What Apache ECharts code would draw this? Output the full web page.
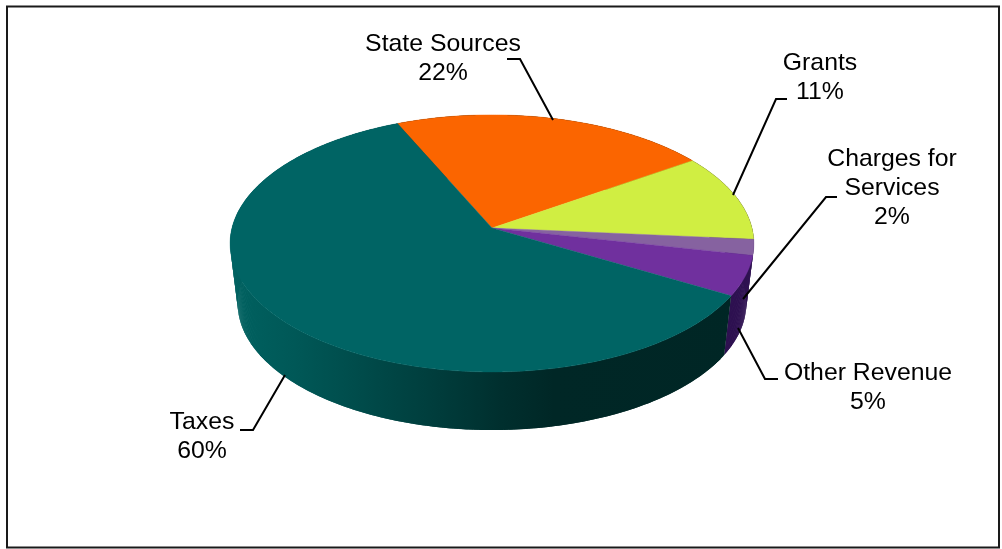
<!DOCTYPE html>
<html>
<head>
<meta charset="utf-8">
<style>html,body{margin:0;padding:0;background:#fff}#c{width:1002px;height:549px}</style>
<script src="https://cdn.jsdelivr.net/npm/echarts@6/dist/echarts.min.js"></script>
</head>
<body>
<div id="c"></div>
<script>
// Data, clockwise from the Taxes / State Sources boundary
const categories = ['State Sources', 'Grants', 'Charges for\nServices', 'Other Revenue', 'Taxes'];
const shares = [22, 11, 2, 5, 60];
const topColors = ['#fb6500', '#d0ee42', '#8662a0', '#70309e', '#006464'];

// Layout (not data)
const startDeg = -23.8;
const top3d = { cx: 492, cy: 228, R: 260, h: 126.7, k: 0.12 };
const bottom3d = { cx: 492, cy: 288, R: 252.5, h: 125, k: 0.12 };
const wallStops = [
  [[0, '#4a2a08'], [1, '#4a2a08']],
  [[0, '#2d1050'], [1, '#2d1050']],
  [[0, '#2d1050'], [1, '#2d1050']],
  [[0, '#2d1050'], [1, '#2d1050']],
  [[0, '#006160'], [0.12, '#005857'], [0.25, '#004b4a'], [0.4, '#003c3b'], [0.52, '#002f2e'], [0.62, '#002726'], [1, '#002625']]
];
const labelAnchors = [[443, 59], [820, 78], [892, 188.5], [868, 387.5], [202, 436.5]];
const leaders = [
  [[507, 59], [520, 59], [553, 120]],
  [[787, 99], [776, 99], [733, 195]],
  [[837, 197], [826, 197], [743, 299]],
  [[778, 379], [765, 379], [738, 328]],
  [[240, 430], [253, 430], [285, 375]]
];

function project(p, deg) {
  const t = deg * Math.PI / 180, X = Math.sin(t), Y = -Math.cos(t);
  const w = 1 - p.k * Y;
  return [p.cx + p.R * X / w, p.cy + p.h * Y / w];
}
function arc(p, a, b) {
  const pts = [], n = Math.max(2, Math.ceil((b - a) * 2));
  for (let i = 0; i <= n; i++) pts.push(project(p, a + (b - a) * i / n));
  return pts;
}

const total = shares.reduce((s, v) => s + v, 0);
const chart = echarts.init(document.getElementById('c'), null, { renderer: 'canvas' });

function renderSlice(params, api) {
  const i = params.dataIndex;
  let before = 0;
  for (let j = 0; j < i; j++) before += shares[j];
  const a = startDeg + before / total * 360;
  const b = a + api.value(0) / total * 360;
  const upper = arc(top3d, a, b), lower = arc(bottom3d, a, b);
  const lines = (categories[i] + '\n' + api.value(0) + '%');
  const wallFill = {
    type: 'linear', x: 233, y: 0, x2: 750, y2: 0, global: true,
    colorStops: wallStops[i].map(s => ({ offset: s[0], color: s[1] }))
  };
  // The side wall is a strip of overlapping quads, so the silhouette between the two rims is filled
  const wall = [];
  for (let q = 0; q + 1 < upper.length; q++) {
    const e = Math.min(q + 2, upper.length - 1);
    wall.push({
      type: 'polygon', z2: 1, silent: true,
      shape: { points: [upper[q], upper[e], lower[e], lower[q]] },
      style: { fill: wallFill }
    });
  }
  return {
    type: 'group',
    children: wall.concat([
      {
        type: 'polygon', z2: 10,
        shape: { points: [[top3d.cx, top3d.cy]].concat(upper) },
        style: { fill: topColors[i], stroke: topColors[i], lineWidth: 0.4 }
      },
      {
        type: 'polyline', z2: 20,
        shape: { points: leaders[i] },
        style: { stroke: '#000', lineWidth: 2, fill: null }
      },
      {
        type: 'text', z2: 30,
        x: labelAnchors[i][0], y: labelAnchors[i][1],
        style: {
          text: lines, fill: '#000', align: 'center', verticalAlign: 'middle',
          font: '24.8px "Liberation Sans", Arial, sans-serif', lineHeight: 29
        }
      }
    ])
  };
}

chart.setOption({
  animation: false,
  backgroundColor: '#fff',
  graphic: [{
    type: 'rect', silent: true, z: -1,
    shape: { x: 7, y: 6.5, width: 992, height: 541 },
    style: { fill: '#fff', stroke: '#1a1a1a', lineWidth: 2 }
  }],
  series: [{
    type: 'custom',
    coordinateSystem: 'none',
    renderItem: renderSlice,
    data: shares.map((v, i) => ({ name: categories[i], value: [v] }))
  }]
});
</script>
</body>
</html>
